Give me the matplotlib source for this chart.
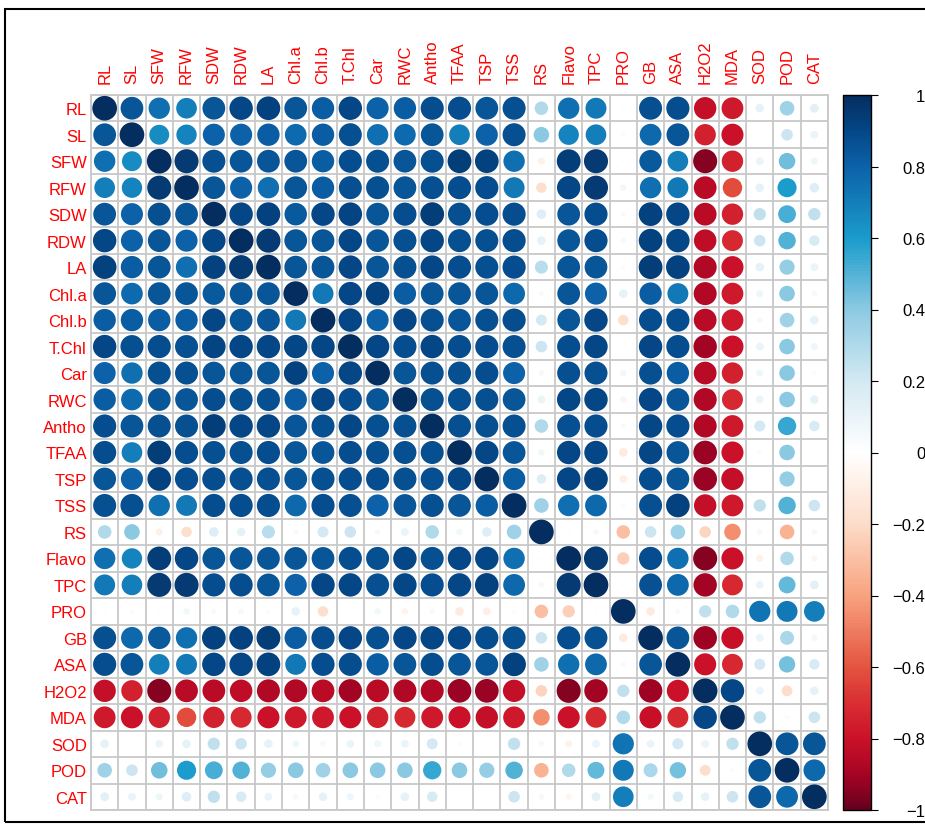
import numpy as np
import matplotlib.pyplot as plt
from matplotlib.colors import LinearSegmentedColormap, Normalize
from matplotlib.cm import ScalarMappable
from matplotlib.patches import Rectangle

plt.rcParams['font.family'] = ['Liberation Sans', 'DejaVu Sans']

variables = ["RL", "SL", "SFW", "RFW", "SDW", "RDW", "LA", "Chl.a", "Chl.b",
             "T.Chl", "Car", "RWC", "Antho", "TFAA", "TSP", "TSS", "RS", "Flavo",
             "TPC", "PRO", "GB", "ASA", "H2O2", "MDA", "SOD", "POD", "CAT"]

# lower triangle of the correlation matrix, row by row (diagonal included)
lower = [
    [1],
    [0.85, 1],
    [0.75, 0.65, 1],
    [0.70, 0.68, 0.95, 1],
    [0.85, 0.80, 0.87, 0.85, 1],
    [0.90, 0.80, 0.85, 0.80, 0.90, 1],
    [0.92, 0.82, 0.85, 0.75, 0.92, 0.95, 1],
    [0.85, 0.77, 0.85, 0.85, 0.83, 0.85, 0.85, 1],
    [0.82, 0.82, 0.82, 0.82, 0.90, 0.85, 0.85, 0.72, 1],
    [0.90, 0.87, 0.88, 0.87, 0.91, 0.90, 0.90, 0.90, 0.90, 1],
    [0.80, 0.75, 0.87, 0.87, 0.85, 0.85, 0.85, 0.92, 0.80, 0.90, 1],
    [0.82, 0.77, 0.85, 0.85, 0.88, 0.87, 0.87, 0.82, 0.90, 0.88, 0.85, 1],
    [0.88, 0.85, 0.87, 0.87, 0.93, 0.90, 0.90, 0.85, 0.87, 0.90, 0.87, 0.87, 1],
    [0.88, 0.70, 0.93, 0.88, 0.87, 0.87, 0.88, 0.85, 0.85, 0.88, 0.87, 0.87, 0.87, 1],
    [0.85, 0.80, 0.92, 0.88, 0.88, 0.87, 0.87, 0.85, 0.87, 0.88, 0.88, 0.87, 0.87, 0.90, 1],
    [0.87, 0.87, 0.75, 0.72, 0.88, 0.88, 0.88, 0.78, 0.88, 0.87, 0.80, 0.85, 0.87, 0.85,
     0.82, 1],
    [0.30, 0.40, -0.08, -0.18, 0.15, 0.12, 0.28, 0.04, 0.20, 0.22, 0.05, 0.10, 0.30, 0.07,
     0.15, 0.35, 1],
    [0.75, 0.68, 0.93, 0.90, 0.85, 0.85, 0.85, 0.85, 0.85, 0.88, 0.87, 0.90, 0.87, 0.90,
     0.90, 0.75, 0.02, 1],
    [0.72, 0.70, 0.95, 0.95, 0.88, 0.88, 0.85, 0.80, 0.90, 0.90, 0.87, 0.90, 0.88, 0.90,
     0.92, 0.78, -0.05, 0.95, 1],
    [0.02, -0.03, -0.02, 0.07, 0.04, 0.05, -0.03, 0.12, -0.18, 0.00, 0.07, -0.07, 0.04,
     -0.12, -0.10, 0.03, -0.30, -0.25, -0.02, 1],
    [0.87, 0.78, 0.83, 0.75, 0.92, 0.92, 0.93, 0.82, 0.88, 0.90, 0.87, 0.90, 0.90, 0.90,
     0.88, 0.87, 0.22, 0.88, 0.86, -0.12, 1],
    [0.88, 0.85, 0.70, 0.72, 0.90, 0.90, 0.92, 0.72, 0.88, 0.88, 0.82, 0.85, 0.88, 0.85,
     0.85, 0.92, 0.35, 0.75, 0.78, -0.04, 0.85, 1],
    [-0.82, -0.75, -0.95, -0.85, -0.85, -0.83, -0.87, -0.87, -0.85, -0.90, -0.85, -0.87,
     -0.87, -0.92, -0.92, -0.82, -0.22, -0.95, -0.90, 0.25, -0.91, -0.80, 1],
    [-0.78, -0.80, -0.75, -0.62, -0.75, -0.72, -0.80, -0.78, -0.78, -0.80, -0.75, -0.72,
     -0.78, -0.80, -0.82, -0.78, -0.45, -0.80, -0.72, 0.30, -0.81, -0.72, 0.90, 1],
    [0.12, 0.00, 0.10, 0.12, 0.25, 0.22, 0.12, 0.08, 0.05, 0.10, 0.08, 0.10, 0.20, 0.03,
     -0.02, 0.25, -0.05, -0.08, 0.10, 0.74, 0.10, 0.20, 0.10, 0.25, 1],
    [0.35, 0.22, 0.45, 0.60, 0.52, 0.50, 0.38, 0.40, 0.35, 0.40, 0.40, 0.40, 0.55, 0.40,
     0.38, 0.50, -0.35, 0.30, 0.47, 0.72, 0.32, 0.44, -0.19, 0.03, 0.85, 1],
    [0.13, 0.10, 0.08, 0.15, 0.25, 0.18, 0.10, 0.05, 0.12, 0.08, 0.03, 0.12, 0.18, 0.00,
     0.00, 0.22, -0.05, -0.06, 0.13, 0.70, 0.06, 0.18, 0.12, 0.22, 0.85, 0.78, 1],
]

n = len(variables)
corr = np.zeros((n, n))
for i, row in enumerate(lower):
    corr[i, :i + 1] = row
    corr[:i + 1, i] = row

# red-white-blue scale, anchored at -1 .. 1
stops = [-1.0, -0.9, -0.8, -0.7, -0.6, -0.4, -0.2, 0.0, 0.2, 0.4, 0.6, 0.8, 0.9, 1.0]
colors = ["#67001F", "#A80424", "#CB1229", "#D92F33", "#E45540", "#F8A37F", "#FDDCC9",
          "#FFFFFF", "#D4E9F3", "#8DCAE2", "#1B9CCC", "#0C62A9", "#044888", "#052E60"]
cmap = LinearSegmentedColormap.from_list(
    "rdbu_corr", list(zip([(s + 1) / 2 for s in stops], colors)))
norm = Normalize(-1, 1)

W, H = 925, 828
fig = plt.figure(figsize=(W / 100, H / 100), dpi=100)

# outer frame
fig.add_artist(Rectangle((5 / W, 1 - 823 / H), 1.0, (823 - 10) / H, transform=fig.transFigure,
                         fill=False, edgecolor="black", lw=1.5, clip_on=False))

left, right, top, bottom = 91, 828, 96, 811
ax = fig.add_axes([left / W, 1 - bottom / H, (right - left) / W, (bottom - top) / H])

xx, yy = np.meshgrid(np.arange(n), np.arange(n))
vals = corr.ravel()
ax.scatter(xx.ravel(), yy.ravel(), s=316 * np.abs(vals), c=vals, cmap=cmap, norm=norm,
           linewidths=0, zorder=3)

ax.set_xlim(-0.5, n - 0.5)
ax.set_ylim(n - 0.5, -0.5)
ax.set_xticks(np.arange(n))
ax.set_yticks(np.arange(n))
ax.set_xticklabels(variables)
ax.set_yticklabels(variables)
ax.set_xticks(np.arange(n + 1) - 0.5, minor=True)
ax.set_yticks(np.arange(n + 1) - 0.5, minor=True)
ax.grid(which="minor", color="#c8c8c8", lw=1.3)
ax.tick_params(which="both", length=0)
ax.tick_params(axis="x", top=True, bottom=False, labeltop=True, labelbottom=False,
               labelrotation=90, pad=9, labelsize=12, labelcolor="#ff0000")
ax.tick_params(axis="y", pad=3, labelsize=12, labelcolor="#ff0000")
for s in ax.spines.values():
    s.set_color("#c8c8c8")
    s.set_linewidth(1.3)

# colour legend
cax = fig.add_axes([843 / W, 1 - bottom / H, 28 / W, (bottom - top) / H])
cb = fig.colorbar(ScalarMappable(norm=norm, cmap=cmap), cax=cax)
ticks = [-1, -0.8, -0.6, -0.4, -0.2, 0, 0.2, 0.4, 0.6, 0.8, 1]
cb.set_ticks(ticks)
cb.set_ticklabels(["\u22121", "\u22120.8", "\u22120.6", "\u22120.4", "\u22120.2", "0",
                   "0.2", "0.4", "0.6", "0.8", "1"])
cb.outline.set_linewidth(1.0)
cax.tick_params(length=5, width=0.8, labelsize=12, pad=34)
for lab in cax.get_yticklabels():
    lab.set_horizontalalignment("right")

fig.savefig("out.png", dpi=100)
